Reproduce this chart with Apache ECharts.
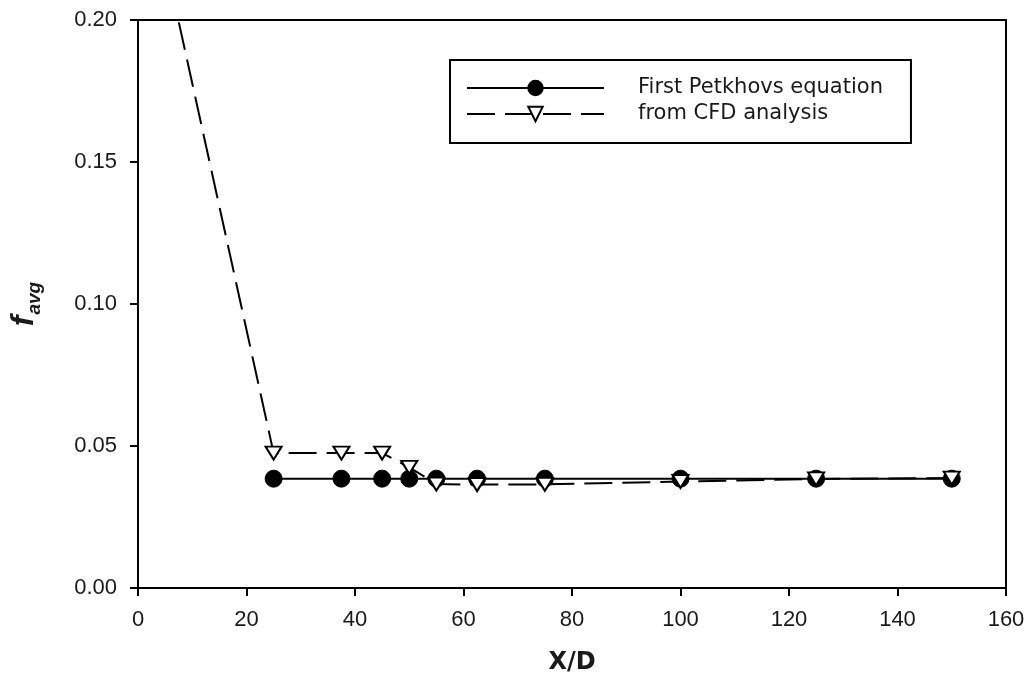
<!DOCTYPE html>
<html>
<head>
<meta charset="utf-8">
<script src="https://cdn.jsdelivr.net/npm/echarts@6/dist/echarts.min.js"></script>
<style>
html,body{margin:0;padding:0;background:#fff;}
#chart{width:1031px;height:680px;}
</style>
</head>
<body>
<div id="chart"></div>
<script>
// Data
const petkhovX = [25, 37.5, 45, 50, 55, 62.5, 75, 100, 125, 150];
const petkhovY = [0.0385, 0.0385, 0.0385, 0.0385, 0.0385, 0.0385, 0.0385, 0.0385, 0.0385, 0.0385];
const cfdX = [0, 25, 37.5, 45, 50, 55, 62.5, 75, 100, 125, 150];
const cfdY = [0.2645, 0.0475, 0.0475, 0.0475, 0.0425, 0.0366, 0.0364, 0.0365, 0.0375, 0.0384, 0.0387];
const seriesNames = ['First Petkhovs equation', 'from CFD analysis'];
const xTicks = {min: 0, max: 160, interval: 20};
const yTicks = {min: 0, max: 0.20, interval: 0.05};

const toPairs = (xs, ys) => xs.map((x, i) => [x, ys[i]]);
const font = "'Liberation Sans', Arial, sans-serif";
const wideFont = "'DejaVu Sans', sans-serif";

const chart = echarts.init(document.getElementById('chart'), null, {renderer: 'canvas'});
chart.setOption({
  animation: false,
  backgroundColor: '#fff',
  grid: {left: 138, right: 25, top: 20, bottom: 92, show: true, borderColor: '#000', borderWidth: 2, backgroundColor: 'transparent'},
  legend: {
    left: 450, top: 60,
    orient: 'vertical',
    padding: [17, 28, 18, 16],
    borderColor: '#000', borderWidth: 2,
    itemWidth: 137, itemHeight: 18, itemGap: 4,
    textStyle: {fontFamily: wideFont, fontSize: 21, lineHeight: 22, color: '#1a1a1a', padding: [0, 0, 0, 29]},
    data: seriesNames
  },
  xAxis: {
    type: 'value', min: xTicks.min, max: xTicks.max, interval: xTicks.interval,
    axisLine: {show: true, onZero: false, lineStyle: {color: '#000', width: 2}},
    axisTick: {show: true, inside: false, length: 8, lineStyle: {color: '#000', width: 2}},
    axisLabel: {fontFamily: font, fontSize: 22, color: '#1a1a1a', margin: 21},
    splitLine: {show: false},
    name: 'X/D', nameLocation: 'middle', nameGap: 63,
    nameTextStyle: {fontFamily: wideFont, fontSize: 24, fontWeight: 'bold', color: '#1a1a1a'}
  },
  yAxis: {
    type: 'value', min: yTicks.min, max: yTicks.max, interval: yTicks.interval,
    axisLine: {show: true, onZero: false, lineStyle: {color: '#000', width: 2}},
    axisTick: {show: true, inside: false, length: 8, lineStyle: {color: '#000', width: 2}},
    axisLabel: {fontFamily: font, fontSize: 22, color: '#1a1a1a', margin: 21, formatter: v => v.toFixed(2)},
    splitLine: {show: false},
    name: '{f|f}{s|avg}', nameLocation: 'middle', nameGap: 94, nameRotate: 90,
    nameTextStyle: {
      rich: {
        f: {fontFamily: font, fontSize: 32, fontWeight: 'bold', fontStyle: 'italic', color: '#1a1a1a'},
        s: {fontFamily: font, fontSize: 19, fontWeight: 'bold', fontStyle: 'italic', color: '#1a1a1a', padding: [20, 0, 0, 1]}
      }
    }
  },
  series: [
    {
      name: seriesNames[0], type: 'line', data: toPairs(petkhovX, petkhovY),
      symbol: 'circle', symbolSize: 17,
      itemStyle: {color: '#000', borderColor: '#000', borderWidth: 1},
      lineStyle: {color: '#000', width: 2, type: 'solid'},
      clip: true
    },
    {
      name: seriesNames[1], type: 'line', data: toPairs(cfdX, cfdY),
      symbol: 'triangle', symbolRotate: 180, symbolSize: [16, 13],
      itemStyle: {color: '#fff', borderColor: '#000', borderWidth: 2},
      lineStyle: {color: '#000', width: 2, type: [28, 10]},
      clip: true
    }
  ]
});
</script>
</body>
</html>
